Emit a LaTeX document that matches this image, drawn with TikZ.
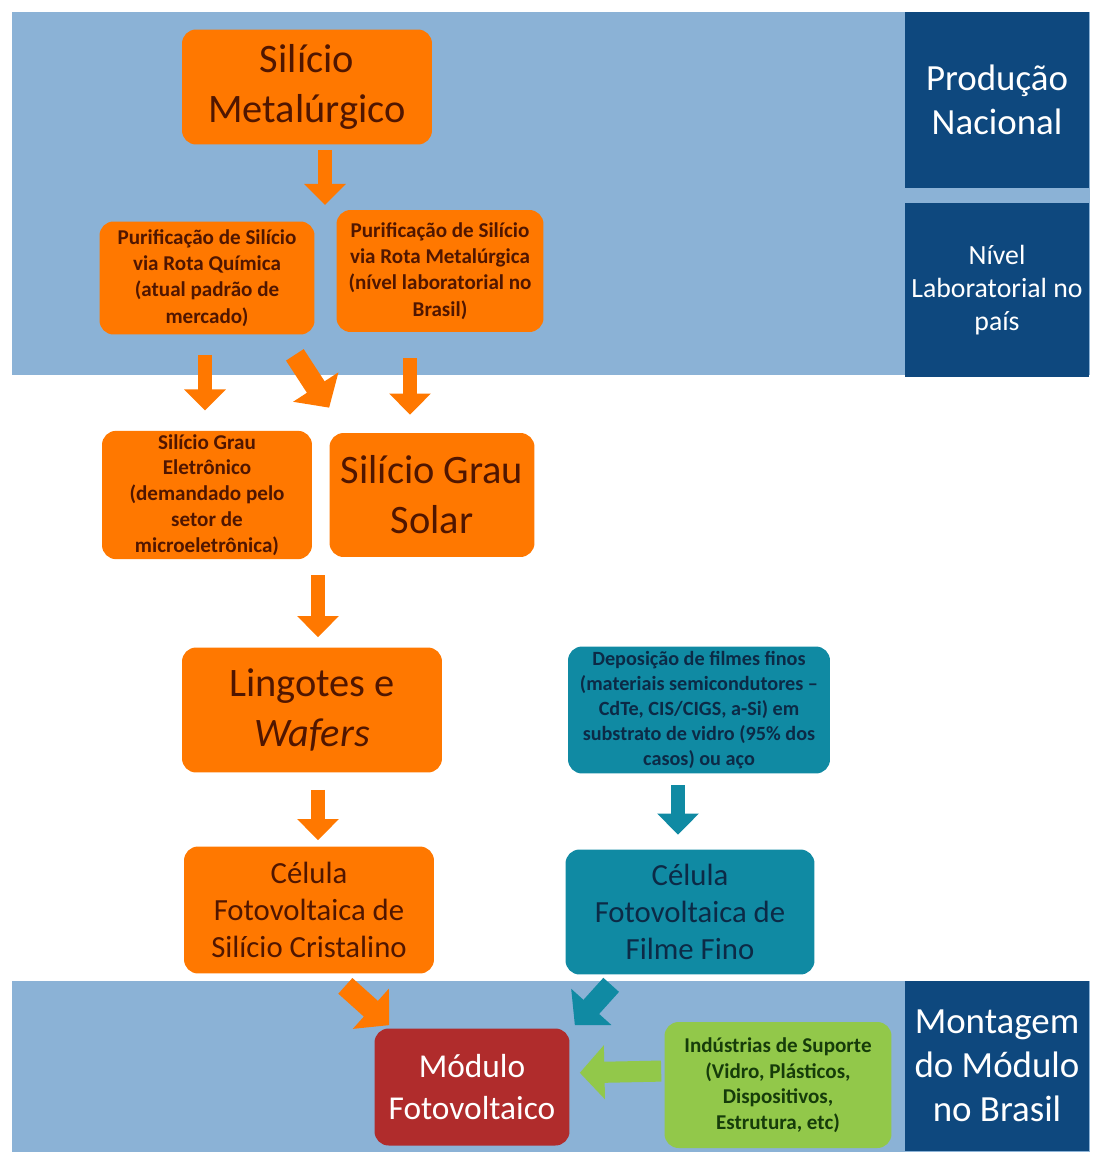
\documentclass[tikz,border=0pt]{standalone}
\usepackage{fontspec}
\setmainfont{Carlito}
\usetikzlibrary{arrows.meta}

\definecolor{bandblue}{RGB}{139,178,214}
\definecolor{navy}{RGB}{14,72,126}
\definecolor{silorange}{RGB}{255,120,0}
\definecolor{siltext}{RGB}{80,22,0}
\definecolor{filmteal}{RGB}{16,138,163}
\definecolor{filmtext}{RGB}{12,42,70}
\definecolor{modred}{RGB}{176,44,44}
\definecolor{supgreen}{RGB}{146,200,74}
\definecolor{suptext}{RGB}{22,60,10}

\begin{document}
\begin{tikzpicture}[x=0.02cm, y=-0.02cm,
  box/.style={rounded corners=8pt, align=center, inner sep=2pt},
  silbox/.style={box, fill=silorange, text=siltext},
  filmbox/.style={box, fill=filmteal, text=filmtext},
  bigtext/.style={font=\fontsize{23}{28.5}\selectfont},
  midtext/.style={font=\fontsize{17.5}{21}\selectfont},
  smalltext/.style={font=\bfseries\fontsize{12}{15}\selectfont},
  sidebox/.style={fill=navy, text=white, align=center, minimum width=3.7cm},
  flow/.style={line width=8.5pt, -{Triangle[length=12pt,width=23pt]}},
  wideflow/.style={line width=12pt, -{Triangle[length=14pt,width=30pt]}}]
\useasboundingbox (0,0) rectangle (1094,1152);

% bands
\fill[bandblue] (12,12) rectangle (1090,375);
\fill[bandblue] (12,981) rectangle (1090,1152);

% side labels
\node[sidebox, minimum height=3.52cm, font=\fontsize{21}{25}\selectfont] (prod) at (997,100) {Produção\\Nacional};
\node[sidebox, minimum height=3.5cm, font=\fontsize{15.8}{19}\selectfont] (nivel) at (997,290) {Nível\\Laboratorial no\\país};
\node[sidebox, minimum height=3.4cm, font=\fontsize{21}{25}\selectfont] (montagem) at (997,1066) {Montagem\\do Módulo\\no Brasil};

% silicon chain
\node[silbox, bigtext, minimum width=5cm, minimum height=2.3cm] (metal) at (307,87) {Silício\\Metalúrgico};
\node[silbox, smalltext, minimum width=4.3cm, minimum height=2.26cm] (quimica) at (207,278) {Purificação de Silício\\via Rota Química\\(atual padrão de\\mercado)};
\node[silbox, smalltext, minimum width=4.14cm, minimum height=2.44cm] (metrota) at (440,271) {Purificação de Silício\\via Rota Metalúrgica\\(nível laboratorial no\\Brasil)};
\node[silbox, smalltext, font=\bfseries\fontsize{12}{14.7}\selectfont, minimum width=4.2cm, minimum height=2.5cm] (eletron) at (207,495) {Silício Grau\\Eletrônico\\(demandado pelo\\setor de\\microeletrônica)};
\node[silbox, bigtext, minimum width=4.1cm, minimum height=2.48cm] (solar) at (432,495) {Silício Grau\\Solar};
\node[silbox, bigtext, minimum width=5.2cm, minimum height=2.5cm] (lingotes) at (312,710) {Lingotes e\\\textit{Wafers}};
\node[silbox, midtext, minimum width=5cm, minimum height=2.54cm] (celcris) at (309,910) {Célula\\Fotovoltaica de\\Silício Cristalino};

% thin film chain
\node[filmbox, font=\bfseries\fontsize{11.5}{14.2}\selectfont, minimum width=5.24cm, minimum height=2.54cm] (depos) at (699,710) {Deposição de filmes finos\\(materiais semicondutores –\\CdTe, CIS/CIGS, a-Si) em\\substrato de vidro (95\% dos\\casos) ou aço};
\node[filmbox, midtext, minimum width=4.98cm, minimum height=2.5cm] (celfilme) at (690,912) {Célula\\Fotovoltaica de\\Filme Fino};

% module
\node[box, fill=modred, text=white, font=\fontsize{19}{23.5}\selectfont, minimum width=3.9cm, minimum height=2.34cm] (modulo) at (472,1087) {Módulo\\Fotovoltaico};
\node[box, fill=supgreen, text=suptext, font=\bfseries\fontsize{12}{14.5}\selectfont, minimum width=4.54cm, minimum height=2.52cm] (industria) at (778,1085) {Indústrias de Suporte\\(Vidro, Plásticos,\\Dispositivos,\\Estrutura, etc)};

% arrows
\coordinate (split) at (325,205);
\coordinate (merge) at (318,575);
\draw[flow, silorange, shorten <=0.1cm] (metal.south -| split) -- (split);
\draw[flow, silorange, shorten <=0.4cm, shorten >=0.4cm] ([xshift=-0.04cm]quimica.south) -- ([xshift=-0.04cm]eletron.north);
\draw[wideflow, silorange] ([xshift=-0.4cm,yshift=-0.4cm]quimica.south east) -- ([yshift=0.5cm]solar.north west);
\draw[flow, silorange, shorten <=0.52cm, shorten >=0.36cm] ([xshift=-0.6cm]metrota.south) -- ([xshift=-0.6cm]metrota.south |- solar.north);
\draw[flow, silorange, shorten >=0.2cm] (merge) -- (merge |- lingotes.north);
\draw[flow, silorange, shorten <=0.34cm, shorten >=0.12cm] ([xshift=0.12cm]lingotes.south) -- ([xshift=0.12cm]lingotes.south |- celcris.north);
\draw[flow, filmteal, shorten <=0.23cm, shorten >=0.29cm] ([xshift=-0.42cm]depos.south) -- ([xshift=-0.42cm]depos.south |- celfilme.north);
\draw[wideflow, silorange] ([xshift=-1.78cm,yshift=-0.24cm]celcris.south east) -- ([xshift=0.3cm,yshift=0.06cm]modulo.north west);
\draw[wideflow, filmteal] ([xshift=0.92cm,yshift=-0.2cm]celfilme.south west) -- ([xshift=0.1cm,yshift=0.06cm]modulo.north east);
\draw[wideflow, supgreen, shorten <=0.06cm, shorten >=0.2cm] ([yshift=0.28cm]industria.west) -- ([yshift=0.28cm]modulo.east);

\end{tikzpicture}
\end{document}
